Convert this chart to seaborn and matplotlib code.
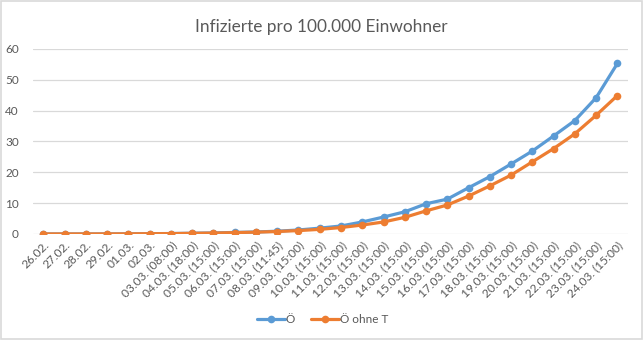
import matplotlib
matplotlib.use("Agg")
import matplotlib.pyplot as plt
import seaborn as sns
import pandas as pd
from matplotlib.patches import Rectangle

# Reporting dates (with time of the report where given)
categories = [
    "26.02.", "27.02.", "28.02.", "29.02.", "01.03.", "02.03.",
    "03.03. (08:00)", "04.03. (18:00)", "05.03. (15:00)", "06.03. (15:00)",
    "07.03. (15:00)", "08.03. (11:45)", "09.03. (15:00)", "10.03. (15:00)",
    "11.03. (15:00)", "12.03. (15:00)", "13.03. (15:00)", "14.03. (15:00)",
    "15.03. (15:00)", "16.03. (15:00)", "17.03. (15:00)", "18.03. (15:00)",
    "19.03. (15:00)", "20.03. (15:00)", "21.03. (15:00)", "22.03. (15:00)",
    "23.03. (15:00)", "24.03. (15:00)",
]

# Infected per 100,000 inhabitants
oesterreich = [
    0.02, 0.02, 0.02, 0.03, 0.05, 0.1, 0.15, 0.25, 0.35, 0.5, 0.65, 0.9,
    1.3, 1.9, 2.6, 3.9, 5.5, 7.2, 9.8, 11.3, 15.0, 18.6, 22.7, 26.9,
    31.8, 36.8, 44.2, 55.3,
]
oesterreich_ohne_tirol = [
    0.02, 0.02, 0.02, 0.03, 0.05, 0.1, 0.12, 0.22, 0.3, 0.45, 0.6, 0.8,
    1.1, 1.5, 2.1, 2.9, 3.9, 5.4, 7.5, 9.4, 12.3, 15.6, 19.1, 23.4,
    27.7, 32.5, 38.5, 44.9,
]

series_names = ["Ö", "Ö ohne T"]
y_ticks = [0, 10, 20, 30, 40, 50, 60]

df = pd.DataFrame({
    "pos": list(range(len(categories))) * 2,
    "wert": oesterreich + oesterreich_ohne_tirol,
    "reihe": [series_names[0]] * len(categories) + [series_names[1]] * len(categories),
})

sns.set_theme(style="white")
plt.rcParams["font.family"] = ["Lato", "DejaVu Sans"]

text_col = "#595959"
grid_col = "#D9D9D9"

fig = plt.figure(figsize=(6.43, 3.40), dpi=100)
ax = fig.add_axes([0.0509, 0.3118, 0.9258, 0.5441])

sns.lineplot(
    data=df, x="pos", y="wert", hue="reihe", hue_order=series_names,
    palette=["#5B9BD5", "#ED7D31"], marker="o", markersize=5.5,
    markeredgewidth=0, linewidth=2.3, ax=ax, legend=True,
)

ax.set_xlim(-0.5, len(categories) - 0.5)
ax.set_ylim(0, 60)
ax.set_yticks(y_ticks)
ax.set_yticklabels([str(v) for v in y_ticks], fontsize=8.5, color=text_col)
ax.yaxis.grid(True, color=grid_col, linewidth=0.9)
ax.set_axisbelow(True)
for s in ax.spines.values():
    s.set_visible(False)
ax.tick_params(axis="y", length=0, pad=10)
ax.tick_params(axis="x", length=0, pad=4)

ax.set_xticks(range(len(categories)))
ax.set_xticklabels(categories, rotation=45, ha="right", va="top",
                   rotation_mode="anchor", fontsize=8.6, color=text_col)
ax.set_xlabel("")
ax.set_ylabel("")

fig.suptitle("Infizierte pro 100.000 Einwohner", y=0.945, fontsize=12.4,
             color=text_col, fontweight="normal")

handles, labels = ax.get_legend_handles_labels()
ax.legend(handles, labels, loc="center", bbox_to_anchor=(0.502, 0.06),
          bbox_transform=fig.transFigure,
          ncol=2, frameon=False, fontsize=8.5, labelcolor=text_col,
          handlelength=2.3, handletextpad=0.1, columnspacing=1.4)

fig.patches.append(Rectangle((0.001, 0.002), 0.997, 0.995, transform=fig.transFigure,
                             fill=False, edgecolor=grid_col, linewidth=1.2))

fig.savefig("out.png", dpi=100, facecolor="white")
